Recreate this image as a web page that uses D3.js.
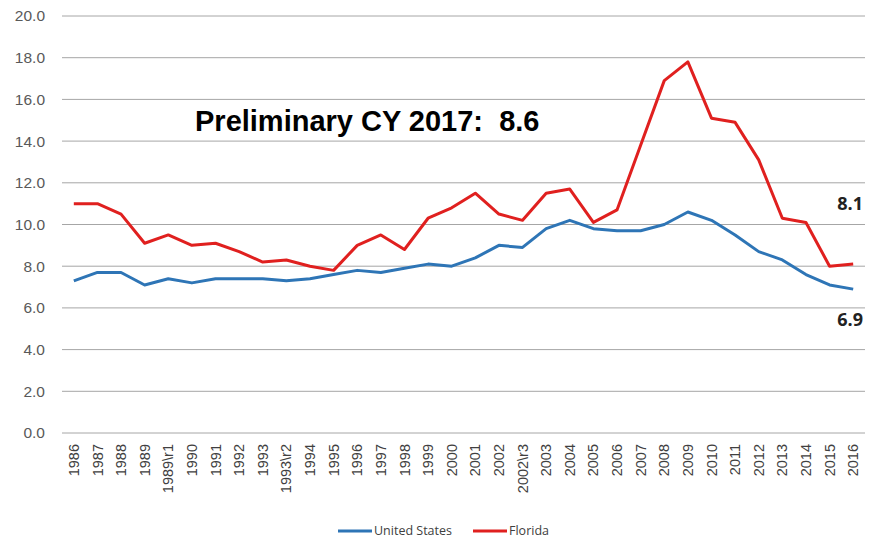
<!DOCTYPE html>
<html>
<head>
<meta charset="utf-8">
<script src="https://cdn.jsdelivr.net/npm/d3@7"></script>
<style>
  body { margin: 0; background: #fff; }
  svg { display: block; font-family: "Open Sans", "DejaVu Sans", sans-serif; }
</style>
</head>
<body>
<svg id="chart"></svg>
<script>
// Chart size matches the browser window.
const width = 881;
const height = 541;

// Categories along the x axis (revision years included).
const years = ["1986", "1987", "1988", "1989", "1989\\r1", "1990", "1991", "1992", "1993", "1993\\r2",
  "1994", "1995", "1996", "1997", "1998", "1999", "2000", "2001", "2002", "2002\\r3",
  "2003", "2004", "2005", "2006", "2007", "2008", "2009", "2010", "2011", "2012",
  "2013", "2014", "2015", "2016"];

// Series values.
const usValues = [7.3, 7.7, 7.7, 7.1, 7.4, 7.2, 7.4, 7.4, 7.4, 7.3,
  7.4, 7.6, 7.8, 7.7, 7.9, 8.1, 8.0, 8.4, 9.0, 8.9,
  9.8, 10.2, 9.8, 9.7, 9.7, 10.0, 10.6, 10.2, 9.5, 8.7,
  8.3, 7.6, 7.1, 6.9];
const flValues = [11.0, 11.0, 10.5, 9.1, 9.5, 9.0, 9.1, 8.7, 8.2, 8.3,
  8.0, 7.8, 9.0, 9.5, 8.8, 10.3, 10.8, 11.5, 10.5, 10.2,
  11.5, 11.7, 10.1, 10.7, 13.8, 16.9, 17.8, 15.1, 14.9, 13.1,
  10.3, 10.1, 8.0, 8.1];

const yTicks = [0, 2, 4, 6, 8, 10, 12, 14, 16, 18, 20];

const series = [
  { name: "United States", values: usValues, color: "#2e75b6" },
  { name: "Florida", values: flValues, color: "#e0201f" }
];

const svg = d3.select("#chart")
  .attr("width", width)
  .attr("height", height);

const margin = { left: 62, right: 16, top: 16, bottom: 108 };

const x = d3.scaleBand()
  .domain(years)
  .range([margin.left, width - margin.right]);

const y = d3.scaleLinear()
  .domain([0, 20])
  .range([height - margin.bottom, margin.top]);

// Gridlines
svg.append("g")
  .selectAll("line")
  .data(yTicks)
  .enter()
  .append("line")
  .attr("x1", margin.left)
  .attr("x2", width - margin.right)
  .attr("y1", d => y(d))
  .attr("y2", d => y(d))
  .attr("stroke", "#a6a6a6")
  .attr("stroke-width", 1);

// Y axis labels
const yAxis = svg.append("g")
  .attr("transform", `translate(${margin.left},0)`)
  .call(d3.axisLeft(y).tickValues(yTicks).tickFormat(d3.format(".1f")).tickSize(0).tickPadding(17));
yAxis.select(".domain").remove();
yAxis.selectAll("text")
  .attr("fill", "#595959")
  .style("font-size", "15.5px");

// X axis labels, rotated
const xAxis = svg.append("g")
  .attr("transform", `translate(0,${y(0)})`)
  .call(d3.axisBottom(x).tickSize(0).tickPadding(0));
xAxis.select(".domain").remove();
xAxis.selectAll("text")
  .attr("fill", "#404040")
  .style("font-size", "14.5px")
  .attr("transform", "rotate(-90)")
  .attr("text-anchor", "end")
  .attr("x", -11)
  .attr("y", 0)
  .attr("dy", "0.35em");

// Lines
const line = d3.line()
  .x((d, i) => x(years[i]) + x.bandwidth() / 2)
  .y(d => y(d));

svg.append("g")
  .selectAll("path")
  .data(series)
  .enter()
  .append("path")
  .attr("d", d => line(d.values))
  .attr("fill", "none")
  .attr("stroke", d => d.color)
  .attr("stroke-width", 3)
  .attr("stroke-linejoin", "round");

// Annotations
svg.append("text")
  .attr("x", 195)
  .attr("y", 131)
  .attr("font-family", "Liberation Sans, Arial, sans-serif")
  .attr("font-weight", "bold")
  .attr("font-size", "29px")
  .attr("fill", "#000")
  .style("white-space", "pre")
  .text("Preliminary CY 2017:  8.6");

svg.append("text")
  .attr("x", 863)
  .attr("y", 210)
  .attr("text-anchor", "end")
  .attr("font-weight", "bold")
  .attr("font-size", "18px")
  .attr("fill", "#222")
  .text("8.1");

svg.append("text")
  .attr("x", 863)
  .attr("y", 326)
  .attr("text-anchor", "end")
  .attr("font-weight", "bold")
  .attr("font-size", "18px")
  .attr("fill", "#222")
  .text("6.9");

// Legend
const legendItems = [
  { name: "United States", color: "#2e75b6", x: 338 },
  { name: "Florida", color: "#e0201f", x: 473 }
];
const legend = svg.append("g")
  .selectAll("g")
  .data(legendItems)
  .enter()
  .append("g")
  .attr("transform", d => `translate(${d.x},531)`);
legend.append("line")
  .attr("x1", 0)
  .attr("x2", 34)
  .attr("stroke", d => d.color)
  .attr("stroke-width", 3);
legend.append("text")
  .attr("x", 36)
  .attr("dy", "0.35em")
  .attr("font-size", "12.5px")
  .attr("fill", "#404040")
  .text(d => d.name);
</script>
</body>
</html>
